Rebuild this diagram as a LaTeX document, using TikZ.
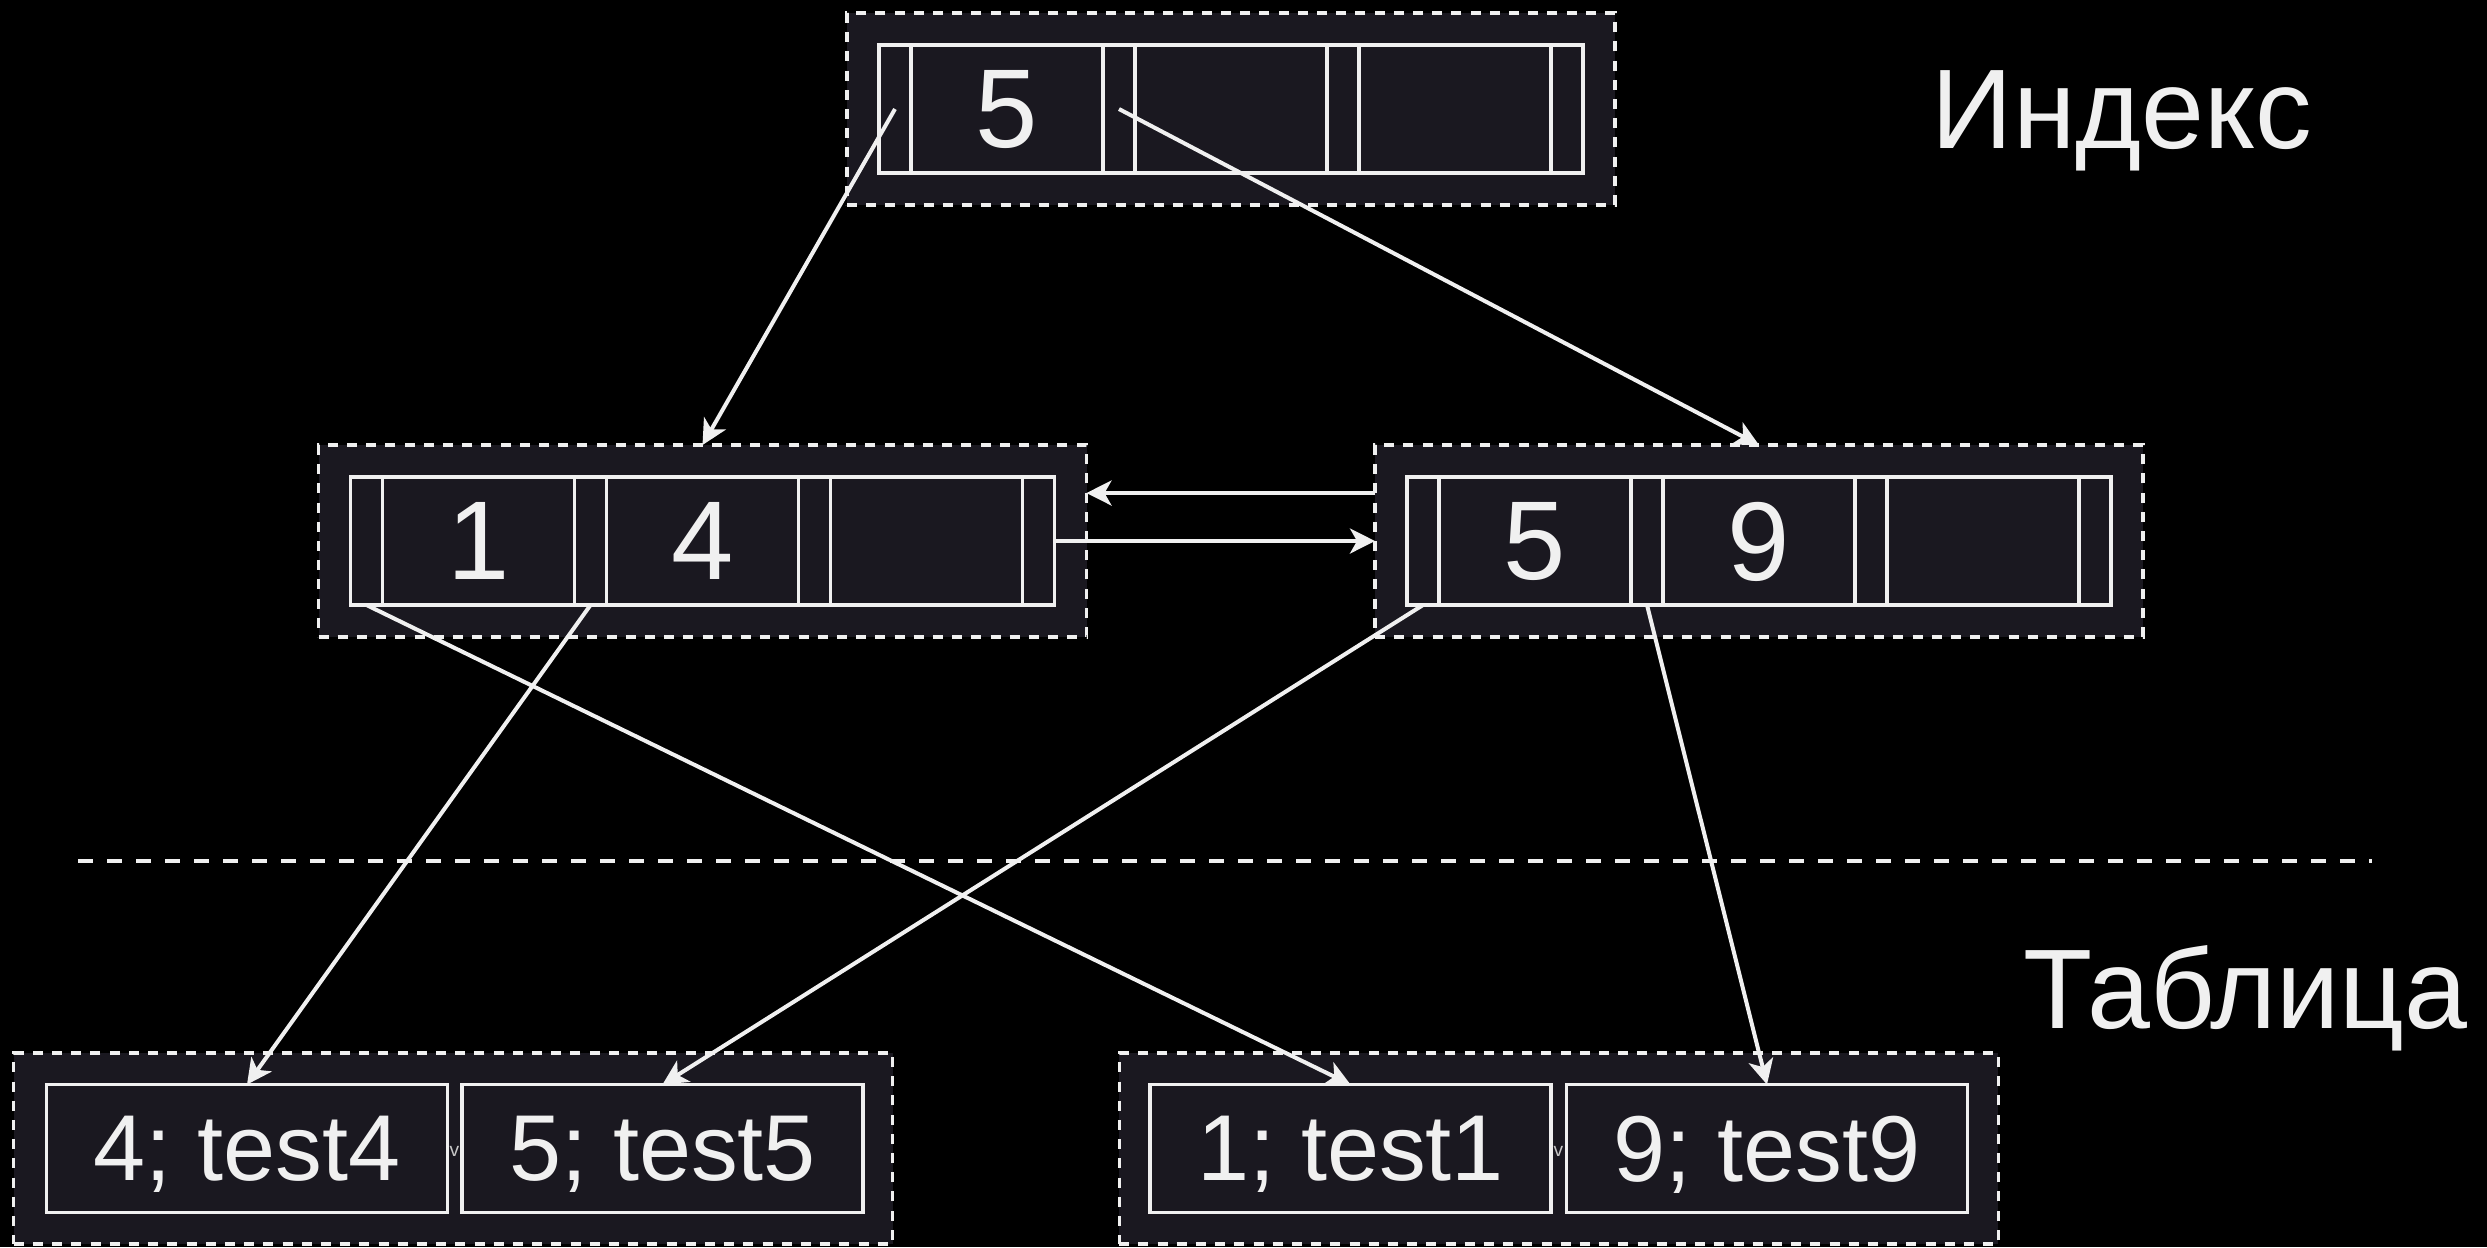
\documentclass[tikz,border=0pt]{standalone}
\usepackage{fontspec}
\setmainfont{Liberation Sans}
\usetikzlibrary{arrows.meta,calc}
\definecolor{boxfill}{HTML}{1A1820}
\definecolor{ink}{HTML}{F0F0F0}
\definecolor{dimink}{HTML}{C8C8C8}
\tikzset{
  cont/.style={draw=ink, fill=boxfill, line width=0.8pt, dash pattern=on 2.5pt off 2.3pt,
    minimum width=192pt, minimum height=48pt, inner sep=0pt, outer sep=0pt},
  tcont/.style={cont, minimum width=219.75pt, minimum height=47.75pt},
  ptr/.style={draw=ink, line width=0.8pt, minimum width=8pt, minimum height=32pt, inner sep=0pt, outer sep=0pt},
  keycell/.style={ptr, minimum width=48pt, text=ink, font=\fontsize{28}{30}\selectfont, text depth=0pt},
  tbox/.style={draw=ink, line width=0.8pt, minimum width=100.25pt, minimum height=32pt, inner sep=0pt,
    outer sep=0pt, text=ink, font=\fontsize{23.4}{26}\selectfont, text depth=0pt},
  tinytext/.style={text=dimink, font=\fontsize{4.8}{5}\selectfont, inner sep=0pt},
  lab/.style={text=ink, font=\fontsize{28.3}{30}\selectfont, inner sep=0pt},
  conn/.style={draw=ink, line width=1pt, -{Stealth[length=6.25pt,width=6.25pt,inset=1.75pt]}},
  sepline/.style={draw=ink, line width=1pt, dash pattern=on 3.75pt off 3.5pt},
}
\newcommand\bnode[5]{%
  \node[cont] (#1) at (#2+352,#3) {};
  \node[ptr] (#1p0) at (#2+16,#3) {};
  \node[keycell] (#1k0) at (#2+128,#3) {#4};
  \node[ptr] (#1p1) at (#2+240,#3) {};
  \node[keycell] (#1k1) at (#2+352,#3) {#5};
  \node[ptr] (#1p2) at (#2+464,#3) {};
  \node[keycell] (#1k2) at (#2+576,#3) {};
  \node[ptr] (#1p3) at (#2+688,#3) {};
}
\begin{document}
\begin{tikzpicture}[x=0.25pt,y=-0.25pt]
  \fill[black] (0,0) rectangle (2487,1247);
  \path[use as bounding box] (0,0) rectangle (2487,1247);

  \bnode{top}{879}{109}{5}{}
  \bnode{ml}{350.5}{541}{1}{4}
  \bnode{mr}{1407}{541}{5}{9}

  \node[tcont] (tl) at (453.25,1148.5) {};
  \node[tbox] (t4) at (247,1148.5) {4; test4};
  \node[tbox] (t5) at (662.5,1148.5) {5; test5};
  \node[tinytext] (vl) at (454.5,1151) {v};

  \node[tcont] (tr) at (1558.6,1148.5) {};
  \node[tbox] (t1) at (1350.5,1148.5) {1; test1};
  \node[tbox] (t9) at (1767,1148.5) {9; test9};
  \node[tinytext] (vr) at (1558.5,1151) {v};

  \node[lab, anchor=base] (lidx) at (2122,148) {Индекс};
  \node[lab, anchor=base] (ltab) at (2245.5,1028) {Таблица};

  \draw[sepline] (78,860.7) -- (2372,860.7);

  \draw[conn] (topp0.center) -- (ml.north);
  \draw[conn] (topp1.center) -- (mr.north);
  \draw[conn] (mlp0.south) -- (t1.north);
  \draw[conn] (mlp1.south) -- (t4.north);
  \draw[conn] (mrp0.south) -- (t5.north);
  \draw[conn] (mrp1.south) -- (t9.north);
  \draw[conn] ($(mr.west)+(0,-48)$) -- ($(ml.east)+(0,-48)$);
  \draw[conn] (mlp3.east) -- (mr.west);
\end{tikzpicture}
\end{document}
